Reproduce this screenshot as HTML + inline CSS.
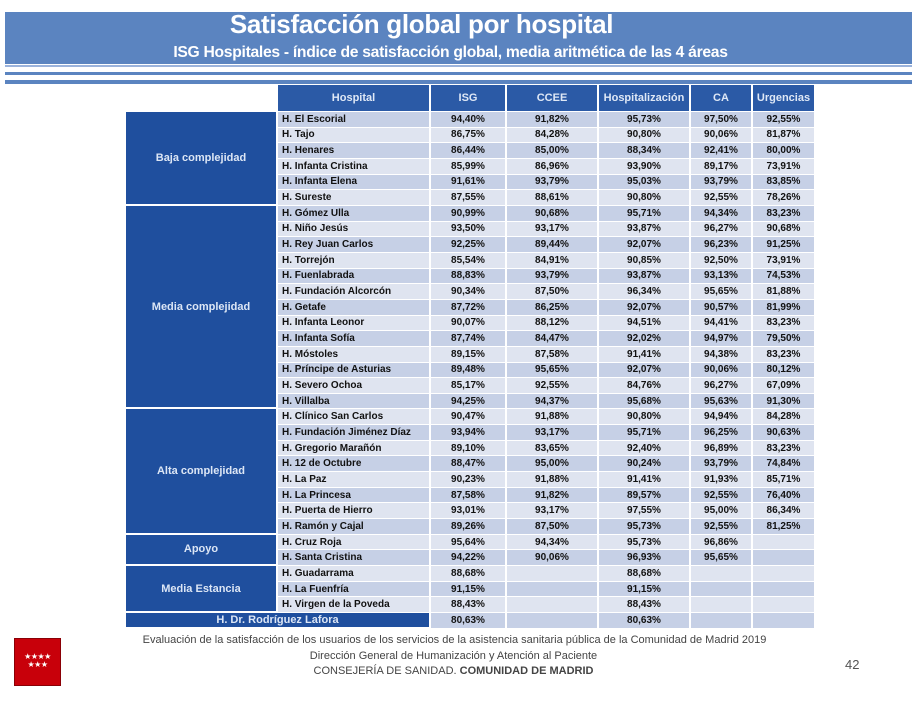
<!DOCTYPE html>
<html><head><meta charset="utf-8"><style>
*{margin:0;padding:0;box-sizing:border-box}
body{width:921px;height:719px;background:#fff;position:relative;overflow:hidden;font-family:"Liberation Sans",Arial,sans-serif}
.band{position:absolute;left:5px;width:907px;background:#5b84c0}
.t1{position:absolute;left:-39px;width:921px;top:9px;text-align:center;color:#fff;font-weight:bold;font-size:26px;letter-spacing:-0.3px}
.t2{position:absolute;left:-10px;width:921px;top:44px;text-align:center;color:#fff;font-weight:bold;font-size:15.7px;letter-spacing:-0.3px}
.g{position:absolute;left:126px;top:85px;display:grid;grid-template-columns:152px 153px 76px 92px 92px 62px 63px;grid-template-rows:27px repeat(33,15.67px)}
.g div{border-right:2px solid #fff;border-bottom:1px solid #fff;font-size:10px;font-weight:bold;color:#111;display:flex;align-items:center;justify-content:center;white-space:nowrap;overflow:hidden}
.g .h{background:#2b5aa6;color:#dfe8f6;font-size:11px}
.g .e{background:#fff}
.g .c{background:#1f4f9e;color:#dce6f5;font-size:11px;border-bottom:2px solid #fff}
.g .n{justify-content:flex-start;padding-left:4px}
.a{background:#c6d0e6}.b{background:#dfe4f0}
.f{position:absolute;left:0;width:921px;text-align:center;font-size:11px;color:#444}
</style></head><body>
<div class="band" style="top:12px;height:52px"></div>
<div class="band" style="top:65px;height:2px;background:#9bb3dc"></div>
<div class="band" style="top:72px;height:3px"></div>
<div class="band" style="top:80px;height:4px"></div>
<div class="t1">Satisfacción global por hospital</div>
<div class="t2">ISG Hospitales - índice de satisfacción global, media aritmética de las 4 áreas</div>
<div class="g">
<div class="e"></div><div class="h">Hospital</div><div class="h">ISG</div><div class="h">CCEE</div><div class="h">Hospitalización</div><div class="h">CA</div><div class="h">Urgencias</div>
<div class="c" style="grid-column:1;grid-row:2 / span 6">Baja complejidad</div>
<div class="c" style="grid-column:1;grid-row:8 / span 13">Media complejidad</div>
<div class="c" style="grid-column:1;grid-row:21 / span 8">Alta complejidad</div>
<div class="c" style="grid-column:1;grid-row:29 / span 2">Apoyo</div>
<div class="c" style="grid-column:1;grid-row:31 / span 3">Media Estancia</div>
<div class="c" style="grid-column:1 / span 2;grid-row:34">H. Dr. Rodríguez Lafora</div>
<div class="n a" style="grid-column:2">H. El Escorial</div><div class="a">94,40%</div><div class="a">91,82%</div><div class="a">95,73%</div><div class="a">97,50%</div><div class="a">92,55%</div>
<div class="n b" style="grid-column:2">H. Tajo</div><div class="b">86,75%</div><div class="b">84,28%</div><div class="b">90,80%</div><div class="b">90,06%</div><div class="b">81,87%</div>
<div class="n a" style="grid-column:2">H. Henares</div><div class="a">86,44%</div><div class="a">85,00%</div><div class="a">88,34%</div><div class="a">92,41%</div><div class="a">80,00%</div>
<div class="n b" style="grid-column:2">H. Infanta Cristina</div><div class="b">85,99%</div><div class="b">86,96%</div><div class="b">93,90%</div><div class="b">89,17%</div><div class="b">73,91%</div>
<div class="n a" style="grid-column:2">H. Infanta Elena</div><div class="a">91,61%</div><div class="a">93,79%</div><div class="a">95,03%</div><div class="a">93,79%</div><div class="a">83,85%</div>
<div class="n b" style="grid-column:2">H. Sureste</div><div class="b">87,55%</div><div class="b">88,61%</div><div class="b">90,80%</div><div class="b">92,55%</div><div class="b">78,26%</div>
<div class="n a" style="grid-column:2">H. Gómez Ulla</div><div class="a">90,99%</div><div class="a">90,68%</div><div class="a">95,71%</div><div class="a">94,34%</div><div class="a">83,23%</div>
<div class="n b" style="grid-column:2">H. Niño Jesús</div><div class="b">93,50%</div><div class="b">93,17%</div><div class="b">93,87%</div><div class="b">96,27%</div><div class="b">90,68%</div>
<div class="n a" style="grid-column:2">H. Rey Juan Carlos</div><div class="a">92,25%</div><div class="a">89,44%</div><div class="a">92,07%</div><div class="a">96,23%</div><div class="a">91,25%</div>
<div class="n b" style="grid-column:2">H. Torrejón</div><div class="b">85,54%</div><div class="b">84,91%</div><div class="b">90,85%</div><div class="b">92,50%</div><div class="b">73,91%</div>
<div class="n a" style="grid-column:2">H. Fuenlabrada</div><div class="a">88,83%</div><div class="a">93,79%</div><div class="a">93,87%</div><div class="a">93,13%</div><div class="a">74,53%</div>
<div class="n b" style="grid-column:2">H. Fundación Alcorcón</div><div class="b">90,34%</div><div class="b">87,50%</div><div class="b">96,34%</div><div class="b">95,65%</div><div class="b">81,88%</div>
<div class="n a" style="grid-column:2">H. Getafe</div><div class="a">87,72%</div><div class="a">86,25%</div><div class="a">92,07%</div><div class="a">90,57%</div><div class="a">81,99%</div>
<div class="n b" style="grid-column:2">H. Infanta Leonor</div><div class="b">90,07%</div><div class="b">88,12%</div><div class="b">94,51%</div><div class="b">94,41%</div><div class="b">83,23%</div>
<div class="n a" style="grid-column:2">H. Infanta Sofía</div><div class="a">87,74%</div><div class="a">84,47%</div><div class="a">92,02%</div><div class="a">94,97%</div><div class="a">79,50%</div>
<div class="n b" style="grid-column:2">H. Móstoles</div><div class="b">89,15%</div><div class="b">87,58%</div><div class="b">91,41%</div><div class="b">94,38%</div><div class="b">83,23%</div>
<div class="n a" style="grid-column:2">H. Príncipe de Asturias</div><div class="a">89,48%</div><div class="a">95,65%</div><div class="a">92,07%</div><div class="a">90,06%</div><div class="a">80,12%</div>
<div class="n b" style="grid-column:2">H. Severo Ochoa</div><div class="b">85,17%</div><div class="b">92,55%</div><div class="b">84,76%</div><div class="b">96,27%</div><div class="b">67,09%</div>
<div class="n a" style="grid-column:2">H. Villalba</div><div class="a">94,25%</div><div class="a">94,37%</div><div class="a">95,68%</div><div class="a">95,63%</div><div class="a">91,30%</div>
<div class="n b" style="grid-column:2">H. Clínico San Carlos</div><div class="b">90,47%</div><div class="b">91,88%</div><div class="b">90,80%</div><div class="b">94,94%</div><div class="b">84,28%</div>
<div class="n a" style="grid-column:2">H. Fundación Jiménez Díaz</div><div class="a">93,94%</div><div class="a">93,17%</div><div class="a">95,71%</div><div class="a">96,25%</div><div class="a">90,63%</div>
<div class="n b" style="grid-column:2">H. Gregorio Marañón</div><div class="b">89,10%</div><div class="b">83,65%</div><div class="b">92,40%</div><div class="b">96,89%</div><div class="b">83,23%</div>
<div class="n a" style="grid-column:2">H. 12 de Octubre</div><div class="a">88,47%</div><div class="a">95,00%</div><div class="a">90,24%</div><div class="a">93,79%</div><div class="a">74,84%</div>
<div class="n b" style="grid-column:2">H. La Paz</div><div class="b">90,23%</div><div class="b">91,88%</div><div class="b">91,41%</div><div class="b">91,93%</div><div class="b">85,71%</div>
<div class="n a" style="grid-column:2">H. La Princesa</div><div class="a">87,58%</div><div class="a">91,82%</div><div class="a">89,57%</div><div class="a">92,55%</div><div class="a">76,40%</div>
<div class="n b" style="grid-column:2">H. Puerta de Hierro</div><div class="b">93,01%</div><div class="b">93,17%</div><div class="b">97,55%</div><div class="b">95,00%</div><div class="b">86,34%</div>
<div class="n a" style="grid-column:2">H. Ramón y Cajal</div><div class="a">89,26%</div><div class="a">87,50%</div><div class="a">95,73%</div><div class="a">92,55%</div><div class="a">81,25%</div>
<div class="n b" style="grid-column:2">H. Cruz Roja</div><div class="b">95,64%</div><div class="b">94,34%</div><div class="b">95,73%</div><div class="b">96,86%</div><div class="b"></div>
<div class="n a" style="grid-column:2">H. Santa Cristina</div><div class="a">94,22%</div><div class="a">90,06%</div><div class="a">96,93%</div><div class="a">95,65%</div><div class="a"></div>
<div class="n b" style="grid-column:2">H. Guadarrama</div><div class="b">88,68%</div><div class="b"></div><div class="b">88,68%</div><div class="b"></div><div class="b"></div>
<div class="n a" style="grid-column:2">H. La Fuenfría</div><div class="a">91,15%</div><div class="a"></div><div class="a">91,15%</div><div class="a"></div><div class="a"></div>
<div class="n b" style="grid-column:2">H. Virgen de la Poveda</div><div class="b">88,43%</div><div class="b"></div><div class="b">88,43%</div><div class="b"></div><div class="b"></div>
<div class="a" style="grid-column:3">80,63%</div><div class="a"></div><div class="a">80,63%</div><div class="a"></div><div class="a"></div>
</div>
<div class="f" style="top:634px;left:-6px">Evaluación de la satisfacción de los usuarios de los servicios de la asistencia sanitaria pública de la Comunidad de Madrid 2019</div>
<div class="f" style="top:650px;left:-7px">Dirección General de Humanización y Atención al Paciente</div>
<div class="f" style="top:665px;left:-7px">CONSEJERÍA DE SANIDAD. <b>COMUNIDAD DE MADRID</b></div>
<div style="position:absolute;left:845px;top:657px;font-size:13px;color:#555">42</div>
<div style="position:absolute;left:14px;top:638px;width:47px;height:48px;background:#c8000a;border:1px solid #8a0006;color:#fff;font-size:8px;line-height:8px;text-align:center;padding-top:14px;letter-spacing:-0.5px">★★★★<br>★★★</div>
</body></html>
